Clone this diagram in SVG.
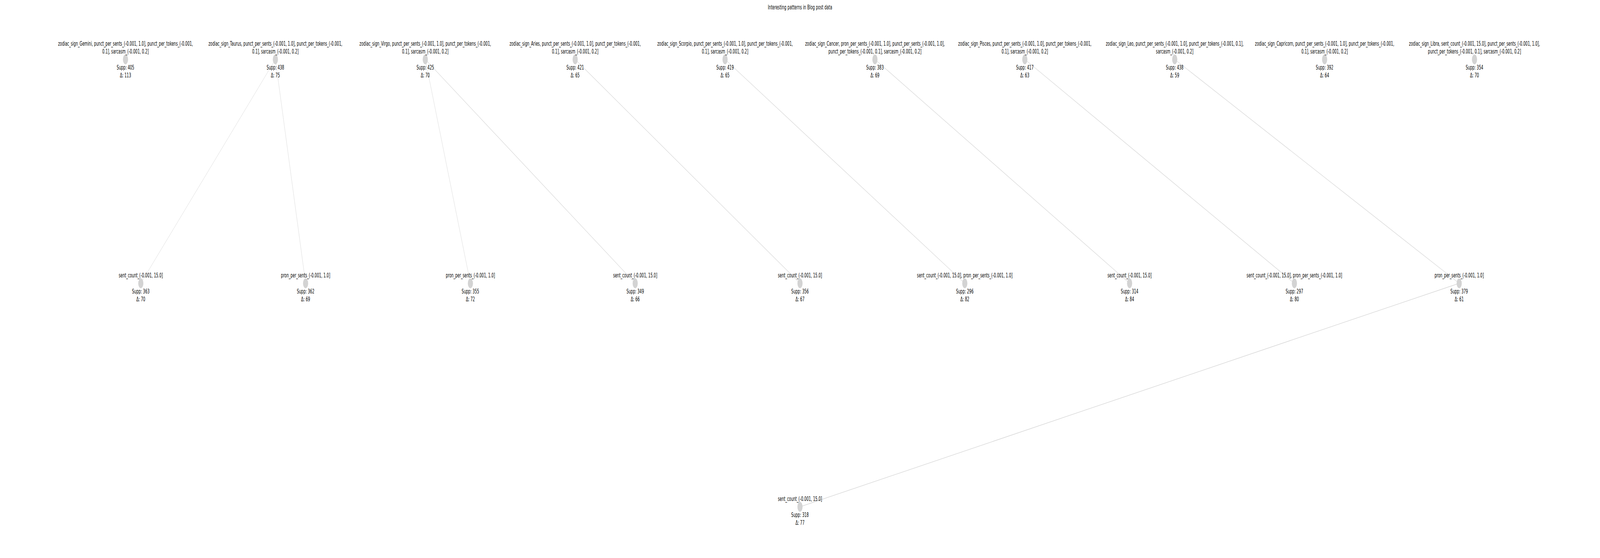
<svg xmlns="http://www.w3.org/2000/svg" width="7769" height="1428" viewBox="0 0 7769 1428" preserveAspectRatio="none" style="width:100vw;height:100vh;display:block">
<style>
text{font-family:"DejaVu Sans","Liberation Sans",sans-serif;font-size:16.7px;fill:#000;text-anchor:middle}
.e{stroke:#d3d3d3;stroke-width:1.3;fill:none}
.e.t{stroke-width:1}
circle{fill:#d3d3d3}
</style>
<rect width="7769" height="1428" fill="#fff"/>
<text x="3884.5" y="24">Interesting patterns in Blog post data</text>
<g id="connectors">
<line class="e t" x1="1337.2" y1="152" x2="683.7" y2="725"/>
<line class="e t" x1="1337.2" y1="152" x2="1483.9" y2="725"/>
<line class="e t" x1="2065" y1="152" x2="2284.1" y2="725"/>
<line class="e" x1="2065" y1="152" x2="3084.3" y2="725"/>
<line class="e" x1="2792.8" y1="152" x2="3884.5" y2="725"/>
<line class="e" x1="3520.6" y1="152" x2="4684.7" y2="725"/>
<line class="e" x1="4248.4" y1="152" x2="5484.9" y2="725"/>
<line class="e" x1="4976.2" y1="152" x2="6285.1" y2="725"/>
<line class="e" x1="5704" y1="152" x2="7085.3" y2="725"/>
<line class="e" x1="7085.3" y1="725" x2="3884.5" y2="1297"/>
</g>
<g id="t_gemini"><circle cx="609.4" cy="152" r="12.5"/><text x="609.4" y="117">zodiac_sign_Gemini, punct_per_sents_(-0.001, 1.0], punct_per_tokens_(-0.001,</text><text x="609.4" y="137">0.1], sarcasm_(-0.001, 0.2]</text><text x="609.4" y="178.5">Supp: 405</text><text x="609.4" y="198.5">Δ: 113</text></g>
<g id="t_taurus"><circle cx="1337.2" cy="152" r="12.5"/><text x="1337.2" y="117">zodiac_sign_Taurus, punct_per_sents_(-0.001, 1.0], punct_per_tokens_(-0.001,</text><text x="1337.2" y="137">0.1], sarcasm_(-0.001, 0.2]</text><text x="1337.2" y="178.5">Supp: 438</text><text x="1337.2" y="198.5">Δ: 75</text></g>
<g id="t_virgo"><circle cx="2065" cy="152" r="12.5"/><text x="2065" y="117">zodiac_sign_Virgo, punct_per_sents_(-0.001, 1.0], punct_per_tokens_(-0.001,</text><text x="2065" y="137">0.1], sarcasm_(-0.001, 0.2]</text><text x="2065" y="178.5">Supp: 425</text><text x="2065" y="198.5">Δ: 70</text></g>
<g id="t_aries"><circle cx="2792.8" cy="152" r="12.5"/><text x="2792.8" y="117">zodiac_sign_Aries, punct_per_sents_(-0.001, 1.0], punct_per_tokens_(-0.001,</text><text x="2792.8" y="137">0.1], sarcasm_(-0.001, 0.2]</text><text x="2792.8" y="178.5">Supp: 421</text><text x="2792.8" y="198.5">Δ: 65</text></g>
<g id="t_scorpio"><circle cx="3520.6" cy="152" r="12.5"/><text x="3520.6" y="117">zodiac_sign_Scorpio, punct_per_sents_(-0.001, 1.0], punct_per_tokens_(-0.001,</text><text x="3520.6" y="137">0.1], sarcasm_(-0.001, 0.2]</text><text x="3520.6" y="178.5">Supp: 419</text><text x="3520.6" y="198.5">Δ: 65</text></g>
<g id="t_cancer"><circle cx="4248.4" cy="152" r="12.5"/><text x="4248.4" y="117">zodiac_sign_Cancer, pron_per_sents_(-0.001, 1.0], punct_per_sents_(-0.001, 1.0],</text><text x="4248.4" y="137">punct_per_tokens_(-0.001, 0.1], sarcasm_(-0.001, 0.2]</text><text x="4248.4" y="178.5">Supp: 383</text><text x="4248.4" y="198.5">Δ: 69</text></g>
<g id="t_pisces"><circle cx="4976.2" cy="152" r="12.5"/><text x="4976.2" y="117">zodiac_sign_Pisces, punct_per_sents_(-0.001, 1.0], punct_per_tokens_(-0.001,</text><text x="4976.2" y="137">0.1], sarcasm_(-0.001, 0.2]</text><text x="4976.2" y="178.5">Supp: 417</text><text x="4976.2" y="198.5">Δ: 63</text></g>
<g id="t_leo"><circle cx="5704" cy="152" r="12.5"/><text x="5704" y="117">zodiac_sign_Leo, punct_per_sents_(-0.001, 1.0], punct_per_tokens_(-0.001, 0.1],</text><text x="5704" y="137">sarcasm_(-0.001, 0.2]</text><text x="5704" y="178.5">Supp: 438</text><text x="5704" y="198.5">Δ: 59</text></g>
<g id="t_capricorn"><circle cx="6431.8" cy="152" r="12.5"/><text x="6431.8" y="117">zodiac_sign_Capricorn, punct_per_sents_(-0.001, 1.0], punct_per_tokens_(-0.001,</text><text x="6431.8" y="137">0.1], sarcasm_(-0.001, 0.2]</text><text x="6431.8" y="178.5">Supp: 392</text><text x="6431.8" y="198.5">Δ: 64</text></g>
<g id="t_libra"><circle cx="7159.6" cy="152" r="12.5"/><text x="7159.6" y="117">zodiac_sign_Libra, sent_count_(-0.001, 15.0], punct_per_sents_(-0.001, 1.0],</text><text x="7159.6" y="137">punct_per_tokens_(-0.001, 0.1], sarcasm_(-0.001, 0.2]</text><text x="7159.6" y="178.5">Supp: 354</text><text x="7159.6" y="198.5">Δ: 70</text></g>
<g id="m0"><circle cx="683.7" cy="725" r="12.5"/><text x="683.7" y="710">sent_count_(-0.001, 15.0]</text><text x="683.7" y="751">Supp: 363</text><text x="683.7" y="771">Δ: 70</text></g>
<g id="m1"><circle cx="1483.9" cy="725" r="12.5"/><text x="1483.9" y="710">pron_per_sents_(-0.001, 1.0]</text><text x="1483.9" y="751">Supp: 362</text><text x="1483.9" y="771">Δ: 69</text></g>
<g id="m2"><circle cx="2284.1" cy="725" r="12.5"/><text x="2284.1" y="710">pron_per_sents_(-0.001, 1.0]</text><text x="2284.1" y="751">Supp: 355</text><text x="2284.1" y="771">Δ: 72</text></g>
<g id="m3"><circle cx="3084.3" cy="725" r="12.5"/><text x="3084.3" y="710">sent_count_(-0.001, 15.0]</text><text x="3084.3" y="751">Supp: 349</text><text x="3084.3" y="771">Δ: 66</text></g>
<g id="m4"><circle cx="3884.5" cy="725" r="12.5"/><text x="3884.5" y="710">sent_count_(-0.001, 15.0]</text><text x="3884.5" y="751">Supp: 356</text><text x="3884.5" y="771">Δ: 67</text></g>
<g id="m5"><circle cx="4684.7" cy="725" r="12.5"/><text x="4684.7" y="710">sent_count_(-0.001, 15.0], pron_per_sents_(-0.001, 1.0]</text><text x="4684.7" y="751">Supp: 296</text><text x="4684.7" y="771">Δ: 82</text></g>
<g id="m6"><circle cx="5484.9" cy="725" r="12.5"/><text x="5484.9" y="710">sent_count_(-0.001, 15.0]</text><text x="5484.9" y="751">Supp: 314</text><text x="5484.9" y="771">Δ: 84</text></g>
<g id="m7"><circle cx="6285.1" cy="725" r="12.5"/><text x="6285.1" y="710">sent_count_(-0.001, 15.0], pron_per_sents_(-0.001, 1.0]</text><text x="6285.1" y="751">Supp: 297</text><text x="6285.1" y="771">Δ: 80</text></g>
<g id="m8"><circle cx="7085.3" cy="725" r="12.5"/><text x="7085.3" y="710">pron_per_sents_(-0.001, 1.0]</text><text x="7085.3" y="751">Supp: 379</text><text x="7085.3" y="771">Δ: 61</text></g>
<g id="b0"><circle cx="3884.5" cy="1297" r="12.5"/><text x="3884.5" y="1282">sent_count_(-0.001, 15.0]</text><text x="3884.5" y="1323">Supp: 318</text><text x="3884.5" y="1343">Δ: 77</text></g>
</svg>
